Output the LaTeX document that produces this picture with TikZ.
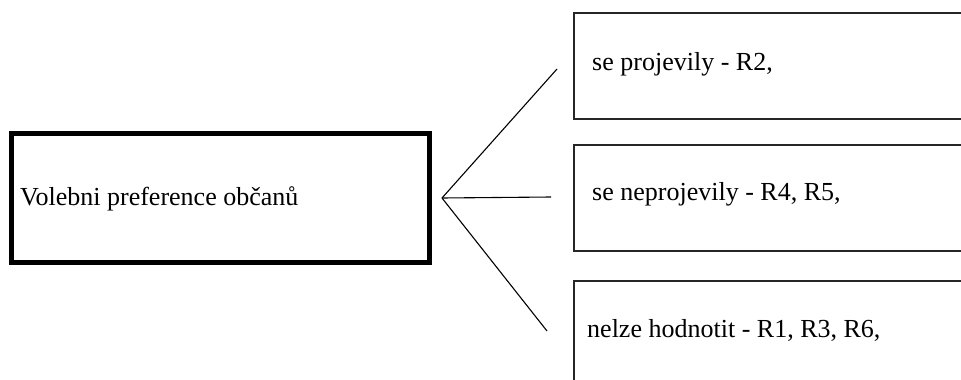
\documentclass[tikz,border=0pt]{standalone}
\usepackage{fontspec}
\setmainfont{Liberation Serif}
\begin{document}
\begin{tikzpicture}[x=1pt,y=-1pt,
  mainbox/.style={draw=black,line width=5pt,rectangle,inner sep=0pt},
  sidebox/.style={draw=black!85,line width=1.6pt,rectangle,inner sep=0pt},
  label/.style={anchor=base west,inner sep=0pt,font=\fontsize{26}{30}\selectfont},
  conn/.style={draw=black,line width=1.1pt}]
\useasboundingbox (0,0) rectangle (961,380);
\clip (0,0) rectangle (961,380);
% boxes
\node[mainbox,minimum width=418pt,minimum height=129pt] (main) at (220,197.5) {};
\node[sidebox,minimum width=420pt,minimum height=106pt] (b1) at (784,66) {};
\node[sidebox,minimum width=420pt,minimum height=106pt] (b2) at (784,198) {};
\node[sidebox,minimum width=420pt,minimum height=106pt] (b3) at (784,334) {};
% texts
\node[label] (t0) at (20,205) {Volebni preference občanů};
\node[label] (t1) at (592,70) {se projevily - R2,};
\node[label] (t2) at (592,200) {se neprojevily - R4, R5,};
\node[label] (t3) at (587,337) {nelze hodnotit - R1, R3, R6,};
% connectors
\coordinate (fan) at (442,198);
\coordinate (e1) at (557,69);
\coordinate (e2) at (551,197);
\coordinate (e3) at (547,331);
\draw[conn] (fan) -- (e1);
\draw[conn] (fan) -- (e2);
\draw[conn] (fan) -- (e3);
\end{tikzpicture}
\end{document}
